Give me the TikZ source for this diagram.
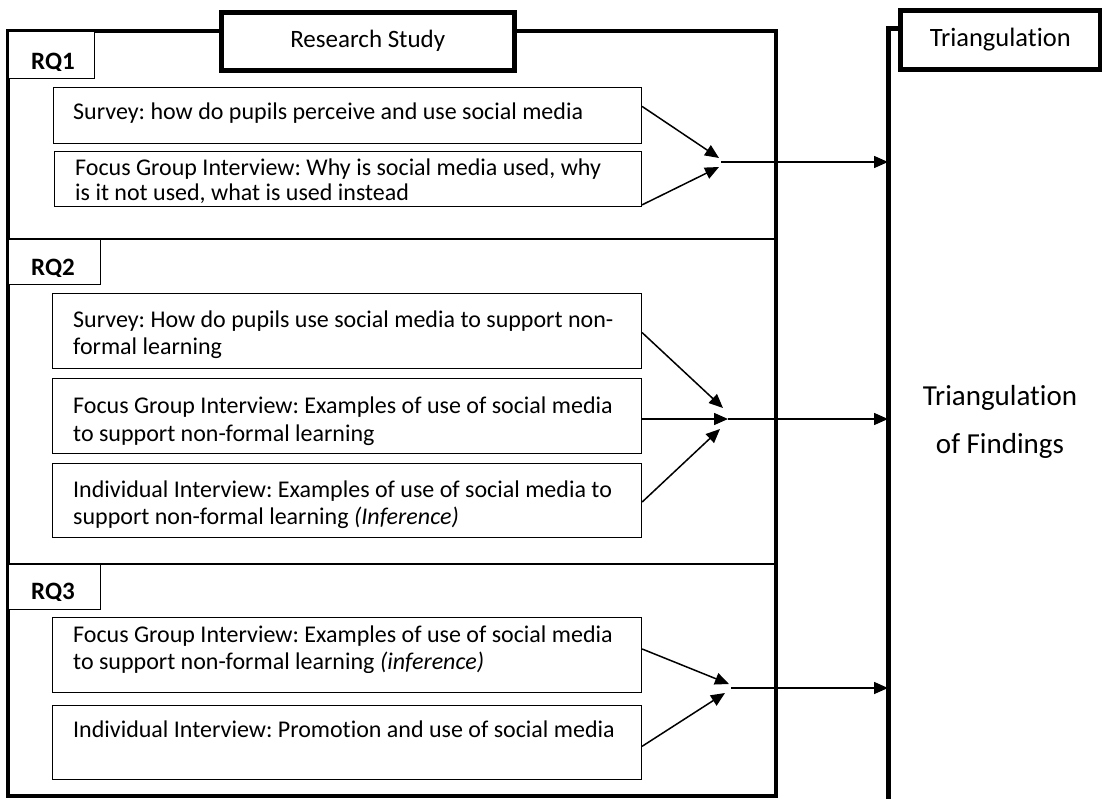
\documentclass[tikz,border=0pt]{standalone}
\usepackage{fontspec}
\setmainfont{Carlito}[Ligatures={NoCommon,NoContextual}]
\usetikzlibrary{arrows.meta,calc}
\frenchspacing

% text lines inside a box, anchored at the baseline of the first line
\newcommand\boxlines[1]{\parbox[t]{600pt}{\raggedright #1}}

\tikzset{
  frameline/.style={line width=4.5pt, line join=miter},
  divider/.style={line width=2.4pt},
  itembox/.style={draw, line width=1.1pt, rectangle, inner sep=0pt, anchor=north west},
  itemtext/.style={anchor=base west, inner sep=0pt,
    font=\fontsize{24}{27}\selectfont},
  rqbox/.style={draw, line width=1.1pt, fill=white, inner sep=0pt, anchor=north west},
  rqtext/.style={anchor=base west, inner sep=0pt, font=\fontsize{25}{28}\selectfont\bfseries},
  titlebox/.style={draw, line width=4.5pt, fill=white, inner sep=0pt, anchor=north west,
    font=\fontsize{25}{28}\selectfont},
  feed/.style={line width=1.5pt, -{Triangle[length=14pt,width=12pt]}},
}

\begin{document}
\begin{tikzpicture}[x=1pt,y=-1pt]
\useasboundingbox (0,0) rectangle (1102,798);

% Research Study frame
\draw[frameline] (8,31) rectangle (776,796);
\draw[divider] (8,239) -- (776,239);
\draw[divider] (8,564) -- (776,564);
\node[titlebox, minimum width=293pt, minimum height=58pt] (rs) at (219,10) {Research Study};

% Triangulation frame
\coordinate (tri) at (888,28);
\draw[line width=5pt] (888,800) -- (tri) -- (1110,28);
\node[titlebox, minimum width=200pt, minimum height=59pt, font=\fontsize{26.5}{28}\selectfont]
  (th) at (898,8) {Triangulation};
\node[anchor=base, inner sep=0pt, font=\fontsize{29}{48}\selectfont]
  (find) at (1000,405) {\parbox[t]{200pt}{\centering Triangulation\\of Findings}};

% Research question labels
\node[rqbox, minimum width=86pt, minimum height=47pt] (rq1) at (8,31) {};
\node[rqbox, minimum width=92pt, minimum height=45pt] (rq2) at (8,239) {};
\node[rqbox, minimum width=92pt, minimum height=45pt] (rq3) at (8,564) {};
\begin{scope}
  \clip (8,31) rectangle (94,70);
  \node[rqtext] (rq1t) at (31,69) {RQ1};
\end{scope}
\begin{scope}
  \clip (8,239) rectangle (100,276);
  \node[rqtext] (rq2t) at (31,275) {RQ2};
\end{scope}
\begin{scope}
  \clip (8,564) rectangle (100,600);
  \node[rqtext] (rq3t) at (31,599) {RQ3};
\end{scope}

% Data source boxes
\node[itembox, minimum width=588pt, minimum height=56pt] (b1) at (53,87) {};
\node[itembox, minimum width=587pt, minimum height=55pt] (b2) at (54,151) {};
\node[itembox, minimum width=589pt, minimum height=75pt] (b3) at (52,293) {};
\node[itembox, minimum width=589pt, minimum height=75pt] (b4) at (52,378) {};
\node[itembox, minimum width=589pt, minimum height=74pt] (b5) at (52,463) {};
\node[itembox, minimum width=589pt, minimum height=75pt] (b6) at (52,617) {};
\node[itembox, minimum width=589pt, minimum height=74pt] (b7) at (52,705) {};

\node[itemtext] (t1) at (73,119) {\boxlines{Survey: how do pupils perceive and use social media}};
\node[itemtext, font=\fontsize{24}{25}\selectfont] (t2) at (75,175)
  {\boxlines{Focus Group Interview: Why is social media used, why\\is it not used, what is used instead}};
\node[itemtext] (t3) at (73,327)
  {\boxlines{Survey: How do pupils use social media to support non-\\formal learning}};
\node[itemtext, font=\fontsize{24}{28}\selectfont] (t4) at (73,413)
  {\boxlines{Focus Group Interview: Examples of use of social media\\to support non-formal learning}};
\node[itemtext] (t5) at (73,497)
  {\boxlines{Individual Interview: Examples of use of social media to\\support non-formal learning \textit{(Inference)}}};
\begin{scope}
  \clip (53,618) rectangle (640,672);
  \node[itemtext] (t6) at (73,642)
    {\boxlines{Focus Group Interview: Examples of use of social media\\to support non-formal learning \textit{(inference)}}};
\end{scope}
\node[itemtext] (t7) at (73,737) {\boxlines{Individual Interview: Promotion and use of social media}};

% Merge points
\coordinate (m1) at (721,162);
\coordinate (m2) at (728,419);
\coordinate (m3) at (731,688);

% RQ1 connectors
\draw[feed] ($(b1.north east)!0.34!(b1.south east)$) -- ($(m1)+(-2,-4)$);
\draw[feed] ($(b2.north east)!0.96!(b2.south east)$) -- ($(m1)+(-2,5)$);
\draw[feed] (m1) -- (m1 -| tri);

% RQ2 connectors
\draw[feed] ($(b3.north east)!0.52!(b3.south east)$) -- ($(m2)+(-5,-11)$);
\draw[feed] (b4.east |- m2) -- (m2);
\draw[feed] ($(b5.north east)!0.52!(b5.south east)$) -- ($(m2)+(-8,10)$);
\draw[feed] (m2) -- (m2 -| tri);

% RQ3 connectors
\draw[feed] ($(b6.north east)!0.42!(b6.south east)$) -- ($(m3)+(-2,-4)$);
\draw[feed] ($(b7.north east)!0.55!(b7.south east)$) -- ($(m3)+(-6,5)$);
\draw[feed] (m3) -- (m3 -| tri);
\end{tikzpicture}
\end{document}
